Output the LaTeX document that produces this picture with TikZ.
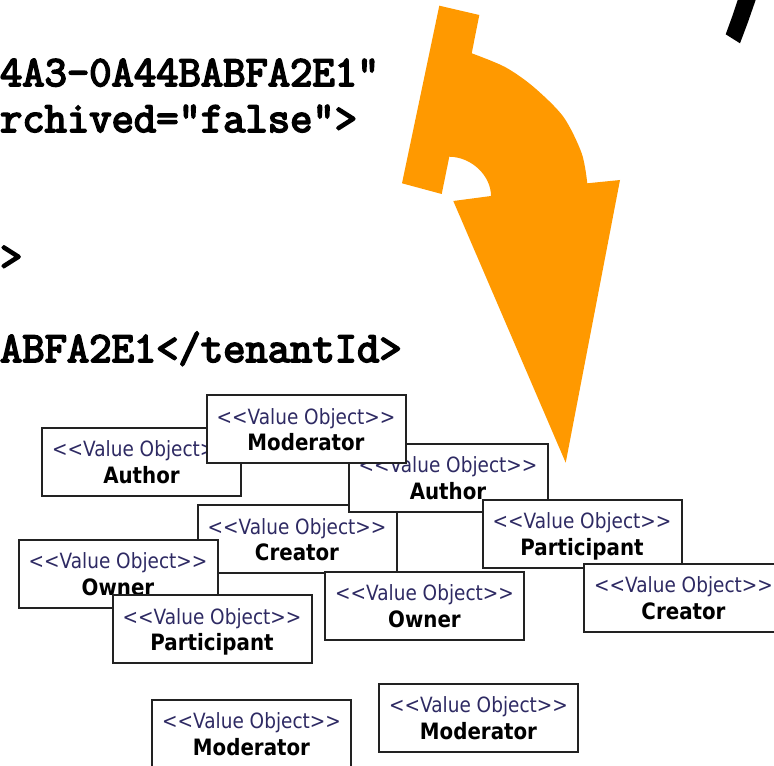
\documentclass[tikz,border=0pt]{standalone}
\usepackage{fontspec}
\usetikzlibrary{calc}
\newfontfamily\codefont[FakeBold=4]{Latin Modern Mono}
\newfontfamily\vofont[FakeStretch=0.88]{DejaVu Sans}
\definecolor{arroworange}{HTML}{FF9900}
\definecolor{stereocol}{HTML}{2E2A63}
\definecolor{boxline}{HTML}{222222}
\tikzset{
  codeline/.style={anchor=base west, inner sep=0pt, outer sep=0pt,
    font=\codefont\bfseries\fontsize{32.5pt}{34pt}\selectfont},
  vobox/.style={draw=boxline, fill=white, line width=1.5pt, anchor=north west,
    minimum width=149.25pt, minimum height=51pt, inner sep=0pt, outer sep=0pt},
  vostereo/.style={anchor=base, inner sep=0pt, text=stereocol,
    font=\vofont\fontsize{15.75pt}{18pt}\selectfont},
  voname/.style={anchor=base, inner sep=0pt, text=black,
    font=\vofont\bfseries\fontsize{16.9pt}{19pt}\selectfont}
}
% value object box: name, left, top, class name
\newcommand\voBox[4]{%
  \node[vobox] (#1) at (#2,#3) {};
  \node[vostereo] (#1-st) at ($(#2,#3)+(99.5,29)$) {{<}{<}Value Object{>}{>}};
  \node[voname] (#1-nm) at ($(#2,#3)+(99.5,55.5)$) {#4};
}
\begin{document}
\begin{tikzpicture}[x=0.75pt,y=-0.75pt]
\useasboundingbox (0,0) rectangle (774,766);

% XML fragment
\node[codeline] (l1) at (0,86)  {4A3-0A44BABFA2E1"};
\node[codeline] (l2) at (0,132) {rchived="false">};
\node[codeline] (l3) at (0,270) {>};
\node[codeline] (l4) at (0,362) {ABFA2E1</tenantId>};

% curved transformation arrow
\fill[arroworange] (439.3,5.7) -- (479.3,15) -- (471.7,53.3)
  -- plot[smooth] coordinates {(471.7,53.3) (505,67) (533.3,86.7) (563.3,116.7) (581.7,153.3) (587.3,183.3)}
  -- (620,180) -- (565.7,462.7) -- (453.3,201) -- (491,196)
  .. controls (491,176) and (472,157) .. (449.3,156.7)
  -- (441.7,194) -- (402,183.3) -- cycle;

% black brush stroke
\fill[black] (738,-1) -- (756,-1) -- (748,22) -- (740,43.3) -- (725.7,34.3) -- (732,17) -- cycle;

% value objects, back to front
\voBox{authorL}{42}{427.5}{Author}
\voBox{creatorM}{197.5}{505}{Creator}
\voBox{authorM}{348.5}{443.5}{Author}
\voBox{moderatorT}{206.5}{395}{Moderator}
\voBox{participantR}{482.5}{499.5}{Participant}
\voBox{creatorR}{584}{563.5}{Creator}
\voBox{ownerL}{18.5}{539.5}{Owner}
\voBox{participantL}{112.5}{595}{Participant}
\voBox{ownerM}{325}{571.5}{Owner}
\voBox{moderatorBL}{152}{699.5}{Moderator}
\voBox{moderatorBR}{379}{683.5}{Moderator}
\end{tikzpicture}
\end{document}
